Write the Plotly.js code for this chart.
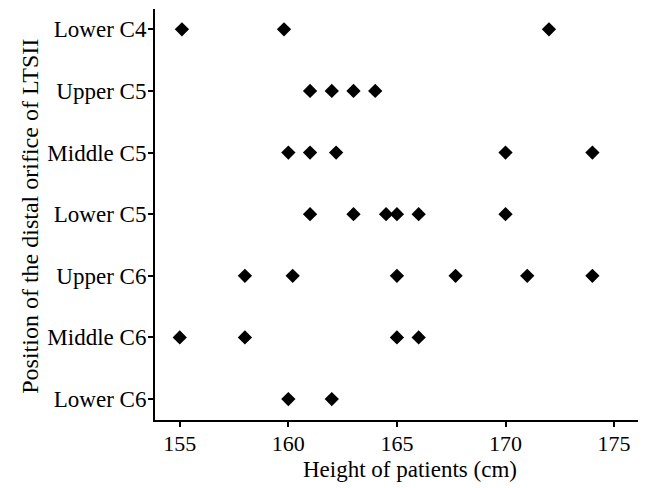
<!DOCTYPE html>
<html>
<head>
<meta charset="utf-8">
<script src="https://cdn.plot.ly/plotly-3.0.1.min.js"></script>
<style>html,body{margin:0;padding:0;background:#fff;}#chart{width:649px;height:488px;}</style>
</head>
<body>
<div id="chart"></div>
<script>
// Categories from bottom to top
var categories = ["Lower C6", "Middle C6", "Upper C6", "Lower C5", "Middle C5", "Upper C5", "Lower C4"];
// Heights of patients (cm) per position
var lowerC6 = [160, 162];
var middleC6 = [155, 158, 165, 166];
var upperC6 = [158, 160.2, 165, 167.7, 171, 174];
var lowerC5 = [161, 163, 164.5, 165, 166, 170];
var middleC5 = [160, 161, 162.2, 170, 174];
var upperC5 = [161, 162, 163, 164];
var lowerC4 = [155.1, 159.8, 172];
var xTicks = [155, 160, 165, 170, 175];
var xTitle = "Height of patients (cm)";
var yTitle = "Position of the distal orifice of LTSII";

var groups = [lowerC6, middleC6, upperC6, lowerC5, middleC5, upperC5, lowerC4];
var xs = [], ys = [];
groups.forEach(function (g, i) {
  g.forEach(function (v) { xs.push(v); ys.push(categories[i]); });
});

var fam = "Liberation Serif, Times New Roman, serif";

var data = [{
  type: "scatter",
  mode: "markers",
  x: xs,
  y: ys,
  marker: {symbol: "diamond", size: 11, color: "#000"},
  hoverinfo: "x+y"
}];

var layout = {
  width: 649,
  height: 488,
  margin: {l: 155, r: 11, t: 9, b: 68},
  paper_bgcolor: "#fff",
  plot_bgcolor: "#fff",
  showlegend: false,
  font: {family: fam, color: "#000"},
  xaxis: {
    range: [153.86, 176.1],
    tickvals: xTicks,
    ticktext: xTicks.map(String),
    showgrid: false,
    zeroline: false,
    showline: true,
    linecolor: "#000",
    linewidth: 2,
    ticks: "outside",
    ticklen: 5,
    tickwidth: 2,
    tickcolor: "#000",
    ticklabelstandoff: -2,
    tickfont: {family: fam, size: 22, color: "#000"}
  },
  yaxis: {
    type: "category",
    categoryorder: "array",
    categoryarray: categories,
    range: [-0.34, 6.33],
    showgrid: false,
    zeroline: false,
    showline: true,
    linecolor: "#000",
    linewidth: 2,
    ticks: "outside",
    ticklen: 5,
    tickwidth: 2,
    tickcolor: "#000",
    ticklabelstandoff: -3,
    tickfont: {family: fam, size: 23, color: "#000"}
  },
  annotations: [
    {text: xTitle, xref: "paper", yref: "paper", x: 0.527, y: -0.121,
     xanchor: "center", yanchor: "middle", showarrow: false,
     font: {family: fam, size: 23, color: "#000"}},
    {text: yTitle, xref: "paper", yref: "paper", x: -0.2588, y: 0.497,
     xanchor: "center", yanchor: "middle", textangle: -90, showarrow: false,
     font: {family: fam, size: 24, color: "#000"}}
  ]
};

Plotly.newPlot("chart", data, layout, {displayModeBar: false, staticPlot: true});
</script>
</body>
</html>
